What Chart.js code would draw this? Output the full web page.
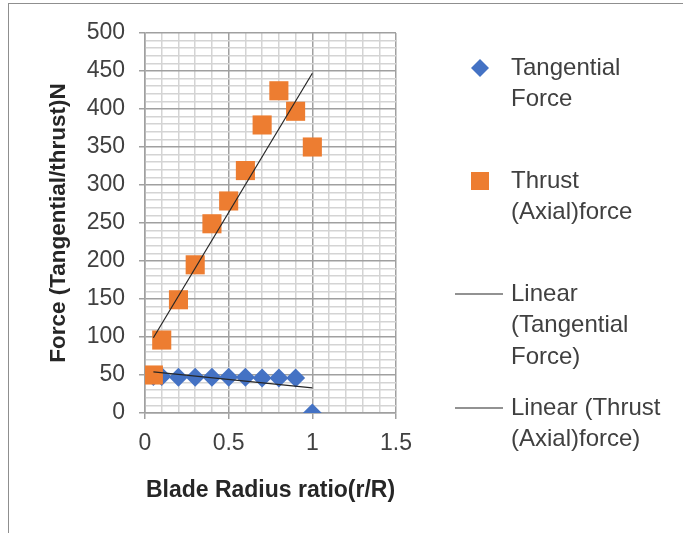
<!DOCTYPE html>
<html lang="en">
<head>
    <meta charset="UTF-8">
    <title>Blade force vs radius ratio</title>
    <script src="https://cdn.jsdelivr.net/npm/chart.js"></script>
    <style>
        body { margin: 0; background: #ffffff; }
        #wrap { position: relative; width: 683px; height: 533px; overflow: hidden; }
        #frame {
            position: absolute; left: 8px; top: 3px; right: -2px; bottom: -2px;
            border-top: 1.5px solid #8f8f8f; border-left: 1.5px solid #8f8f8f;
        }
        canvas { position: absolute; left: 0; top: 0; }
    </style>
</head>
<body>
<div id="wrap">
    <div id="frame"></div>
    <canvas id="forceChart" width="683" height="533"></canvas>
</div>

<script>
    // radius ratio r/R
    const radiusRatio = [0.05, 0.1, 0.2, 0.3, 0.4, 0.5, 0.6, 0.7, 0.8, 0.9, 1.0];
    // forces in N
    const tangentialForce = [48, 48, 47, 47, 47, 47, 47, 46, 46, 46, 0];
    const thrustForce = [50, 96, 149, 195, 249, 279, 319, 379, 424, 397, 350];
    // linear trend lines (end points as drawn)
    const trendX = [0.05, 1.0];
    const tangentialTrend = [54, 33];
    const thrustTrend = [99, 447];

    const legendLabels = [
        ['Tangential', 'Force'],
        ['Thrust', '(Axial)force'],
        ['Linear', '(Tangential', 'Force)'],
        ['Linear (Thrust', '(Axial)force)']
    ];

    const BLUE = '#4472C4';
    const ORANGE = '#ED7D31';
    const FONT = "'Liberation Sans', Arial, sans-serif";

    const toPoints = (xs, ys) => xs.map((x, i) => ({ x: x, y: ys[i] }));
    const isMajorX = v => Math.abs(v * 2 - Math.round(v * 2)) < 1e-6;
    const isMajorY = v => Math.abs(v % 50) < 1e-6;

    // legend drawn by hand so it can sit like Excel's (wrapped text, big gaps)
    const sideLegend = {
        id: 'sideLegend',
        afterDraw(chart) {
            const ctx = chart.ctx;
            ctx.save();
            ctx.font = '24px ' + FONT;
            ctx.fillStyle = '#404040';
            ctx.textBaseline = 'middle';
            ctx.textAlign = 'left';
            const rows = [68, 181, 294, 408];
            const lineGap = 31.5;
            rows.forEach((y0, i) => {
                legendLabels[i].forEach((t, j) => ctx.fillText(t, 511, y0 + j * lineGap));
            });
            // markers
            ctx.fillStyle = BLUE;
            ctx.beginPath();
            ctx.moveTo(480, 59); ctx.lineTo(489, 68); ctx.lineTo(480, 77); ctx.lineTo(471, 68);
            ctx.closePath(); ctx.fill();
            ctx.fillStyle = ORANGE;
            ctx.fillRect(471, 172, 18, 18);
            ctx.strokeStyle = '#262626';
            ctx.lineWidth = 1.2;
            [294, 408].forEach(y => {
                ctx.beginPath(); ctx.moveTo(455, y); ctx.lineTo(503, y); ctx.stroke();
            });
            ctx.restore();
        }
    };

    window.onload = () => {
        const ctx = document.getElementById('forceChart').getContext('2d');
        new Chart(ctx, {
            type: 'scatter',
            data: {
                datasets: [
                    {
                        label: 'Linear (Tangential Force)',
                        data: toPoints(trendX, tangentialTrend),
                        showLine: true, borderColor: '#262626', borderWidth: 1.2,
                        pointRadius: 0
                    },
                    {
                        label: 'Linear (Thrust (Axial)force)',
                        data: toPoints(trendX, thrustTrend),
                        showLine: true, borderColor: '#262626', borderWidth: 1.2,
                        pointRadius: 0
                    },
                    {
                        label: 'Thrust (Axial)force',
                        data: toPoints(radiusRatio, thrustForce),
                        pointStyle: 'rect', pointRadius: 13.5,
                        backgroundColor: ORANGE, borderWidth: 0
                    },
                    {
                        label: 'Tangential Force',
                        data: toPoints(radiusRatio, tangentialForce),
                        pointStyle: 'rectRot', pointRadius: 9.5,
                        backgroundColor: BLUE, borderWidth: 0
                    }
                ]
            },
            options: {
                responsive: false,
                animation: false,
                layout: { padding: { left: 10, top: 33, right: 287, bottom: 20 } },
                plugins: { legend: { display: false }, tooltip: { enabled: false } },
                scales: {
                    x: {
                        type: 'linear', min: 0, max: 1.5,
                        afterFit: s => { s.height = 100; },
                        ticks: {
                            stepSize: 0.1, autoSkip: false, maxRotation: 0, padding: 11,
                            color: '#404040', font: { family: FONT, size: 23 },
                            callback: v => isMajorX(v) ? String(Math.round(v * 10) / 10) : ''
                        },
                        grid: {
                            color: c => isMajorX(c.tick.value) ? '#a0a0a0' : '#d4d4d4',
                            tickColor: c => isMajorX(c.tick.value) ? '#a0a0a0' : 'rgba(0,0,0,0)',
                            lineWidth: 1.5, tickLength: 6
                        },
                        border: { color: '#a0a0a0', width: 1.5 },
                        title: {
                            display: true, text: 'Blade Radius ratio(r/R)', color: '#262626',
                            font: { family: FONT, size: 23, weight: 'bold' },
                            padding: { top: 0, bottom: 9 }
                        }
                    },
                    y: {
                        type: 'linear', min: 0, max: 500,
                        afterFit: s => { s.width = 135; },
                        ticks: {
                            stepSize: 10, autoSkip: false, padding: 14,
                            color: '#404040', font: { family: FONT, size: 23 },
                            callback: v => isMajorY(v) ? String(v) : ''
                        },
                        grid: {
                            color: c => isMajorY(c.tick.value) ? '#a0a0a0' : '#d4d4d4',
                            tickColor: c => isMajorY(c.tick.value) ? '#a0a0a0' : 'rgba(0,0,0,0)',
                            lineWidth: 1.5, tickLength: 6
                        },
                        border: { color: '#a0a0a0', width: 1.5 },
                        title: {
                            display: true, text: 'Force (Tangential/thrust)N', color: '#262626',
                            font: { family: FONT, size: 22.5, weight: 'bold' },
                            padding: { top: 35, bottom: 0 }
                        }
                    }
                }
            },
            plugins: [sideLegend]
        });
    };
</script>
</body>
</html>
